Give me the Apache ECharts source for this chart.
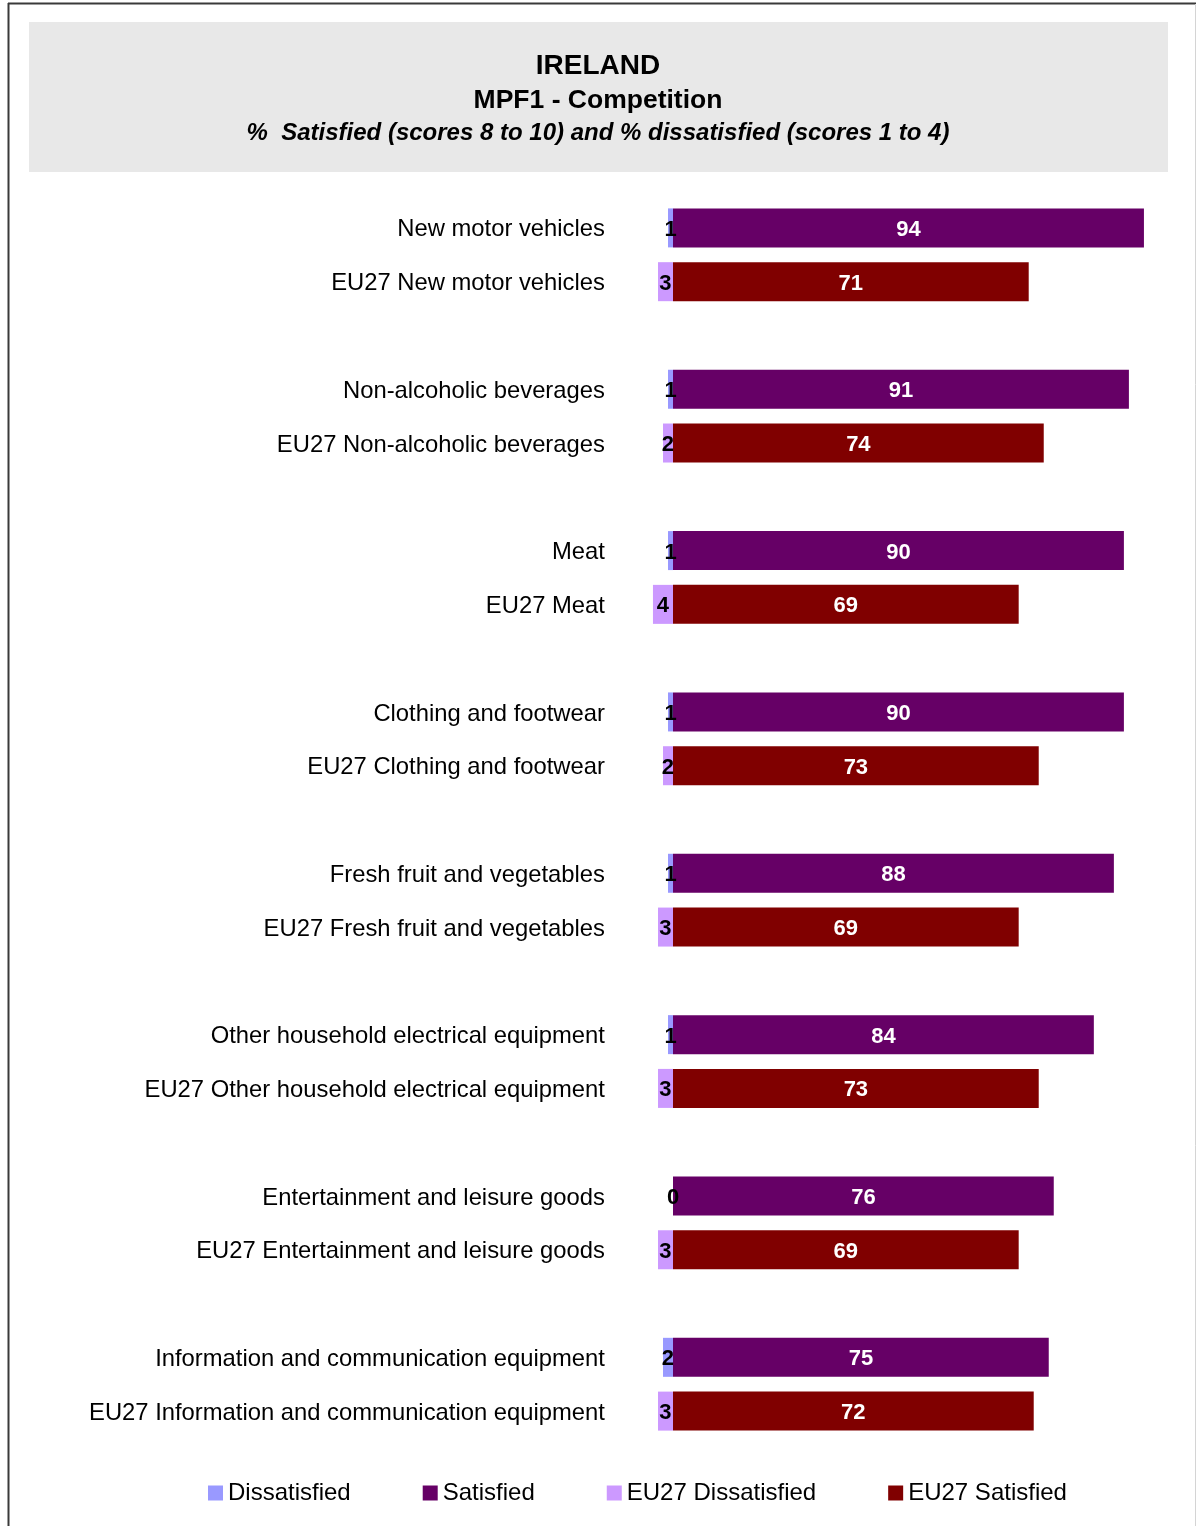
<!DOCTYPE html>
<html>
<head>
<meta charset="utf-8">
<script src="https://cdn.jsdelivr.net/npm/echarts@6/dist/echarts.min.js"></script>
<style>
html,body{margin:0;padding:0;background:#fff;}
#chart{width:1197px;height:1526px;}
</style>
</head>
<body>
<div id="chart"></div>
<script>
var categories = [
  "New motor vehicles",
  "Non-alcoholic beverages",
  "Meat",
  "Clothing and footwear",
  "Fresh fruit and vegetables",
  "Other household electrical equipment",
  "Entertainment and leisure goods",
  "Information and communication equipment"
];
var irelandDissatisfied = [1, 1, 1, 1, 1, 1, 0, 2];
var irelandSatisfied    = [94, 91, 90, 90, 88, 84, 76, 75];
var eu27Dissatisfied    = [3, 2, 4, 2, 3, 3, 3, 3];
var eu27Satisfied       = [71, 74, 69, 73, 69, 73, 69, 72];
var seriesNames = ["Dissatisfied", "Satisfied", "EU27 Dissatisfied", "EU27 Satisfied"];
var seriesColors = ["#9999FF", "#660066", "#CC99FF", "#800000"];

// Build the category slots: Ireland row, EU27 row, blank spacer
var slots = [];
var sDis = [], sSat = [], sEuDis = [], sEuSat = [];
for (var i = 0; i < categories.length; i++) {
  slots.push(categories[i]);
  sDis.push(-irelandDissatisfied[i]); sSat.push(irelandSatisfied[i]); sEuDis.push(null); sEuSat.push(null);
  slots.push("EU27 " + categories[i]);
  sDis.push(null); sSat.push(null); sEuDis.push(-eu27Dissatisfied[i]); sEuSat.push(eu27Satisfied[i]);
  if (i < categories.length - 1) {
    slots.push(" ".repeat(i + 1));
    sDis.push(null); sSat.push(null); sEuDis.push(null); sEuSat.push(null);
  }
}

var FONT = "Liberation Sans, Arial, sans-serif";
var chart = echarts.init(document.getElementById('chart'), null, {renderer: 'canvas'});

function mk(name, data, color, labelColor) {
  return {
    name: name,
    type: 'bar',
    stack: 'all',
    barWidth: 39,
    data: data,
    itemStyle: {color: color},
    label: {
      show: true,
      position: 'inside',
      color: labelColor,
      fontFamily: FONT,
      fontWeight: 'bold',
      fontSize: 22,
      formatter: function (p) { return p.value == null ? '' : '{v|' + Math.abs(p.value) + '}'; },
      rich: {v: {color: labelColor, fontFamily: FONT, fontWeight: 'bold', fontSize: 22, padding: [4, 0, 0, 0]}}
    },
    labelLayout: {hideOverlap: false},
    emphasis: {disabled: true},
    animation: false
  };
}

chart.setOption({
  animation: false,
  backgroundColor: '#ffffff',
  graphic: [
    {type: 'line', shape: {x1: 8, y1: 3.5, x2: 1196, y2: 3.5}, style: {stroke: '#3a3a3a', lineWidth: 2}, z: 10},
    {type: 'line', shape: {x1: 8.5, y1: 3, x2: 8.5, y2: 1526}, style: {stroke: '#3a3a3a', lineWidth: 2}, z: 10},
    {type: 'line', shape: {x1: 1195.5, y1: 4, x2: 1195.5, y2: 1526}, style: {stroke: '#d4d4d4', lineWidth: 1}, z: 10},
    {type: 'rect', shape: {x: 29, y: 22, width: 1139, height: 150}, style: {fill: '#E8E8E8'}, z: 0},
    {type: 'text', x: 598, y: 66, style: {text: 'IRELAND', font: 'bold 28px ' + FONT, fill: '#000', align: 'center', verticalAlign: 'middle'}, z: 5},
    {type: 'text', x: 598, y: 101, style: {text: 'MPF1 - Competition', font: 'bold 26.5px ' + FONT, fill: '#000', align: 'center', verticalAlign: 'middle'}, z: 5},
    {type: 'text', x: 598, y: 133, style: {text: '%  Satisfied (scores 8 to 10) and % dissatisfied (scores 1 to 4)', font: 'italic bold 24px ' + FONT, fill: '#000', align: 'center', verticalAlign: 'middle'}, z: 5}
  ],
  legend: {
    data: seriesNames,
    left: 208,
    top: 1481,
    padding: 0,
    itemWidth: 15,
    itemHeight: 15,
    itemGap: 72,
    icon: 'rect',
    textStyle: {fontFamily: FONT, fontSize: 24, color: '#000'},
    selectedMode: false
  },
  grid: {left: 622.9, top: 201, width: 551.1, height: 1237, containLabel: false},
  xAxis: {
    type: 'value', min: -10, max: 100,
    show: false
  },
  yAxis: {
    type: 'category',
    inverse: true,
    data: slots,
    axisLine: {show: false},
    axisTick: {show: false},
    splitLine: {show: false},
    axisLabel: {
      interval: 0,
      margin: 18,
      fontFamily: FONT,
      fontSize: 23.8,
      color: '#000',
      formatter: function (v) { return v.trim() ? '{t|' + v.trim() + '}' : ''; },
      rich: {t: {fontFamily: FONT, fontSize: 23.8, color: '#000', padding: [4, 0, 0, 0]}}
    }
  },
  series: [
    mk(seriesNames[0], sDis, seriesColors[0], '#000'),
    mk(seriesNames[1], sSat, seriesColors[1], '#fff'),
    mk(seriesNames[2], sEuDis, seriesColors[2], '#000'),
    mk(seriesNames[3], sEuSat, seriesColors[3], '#fff')
  ]
});
</script>
</body>
</html>
